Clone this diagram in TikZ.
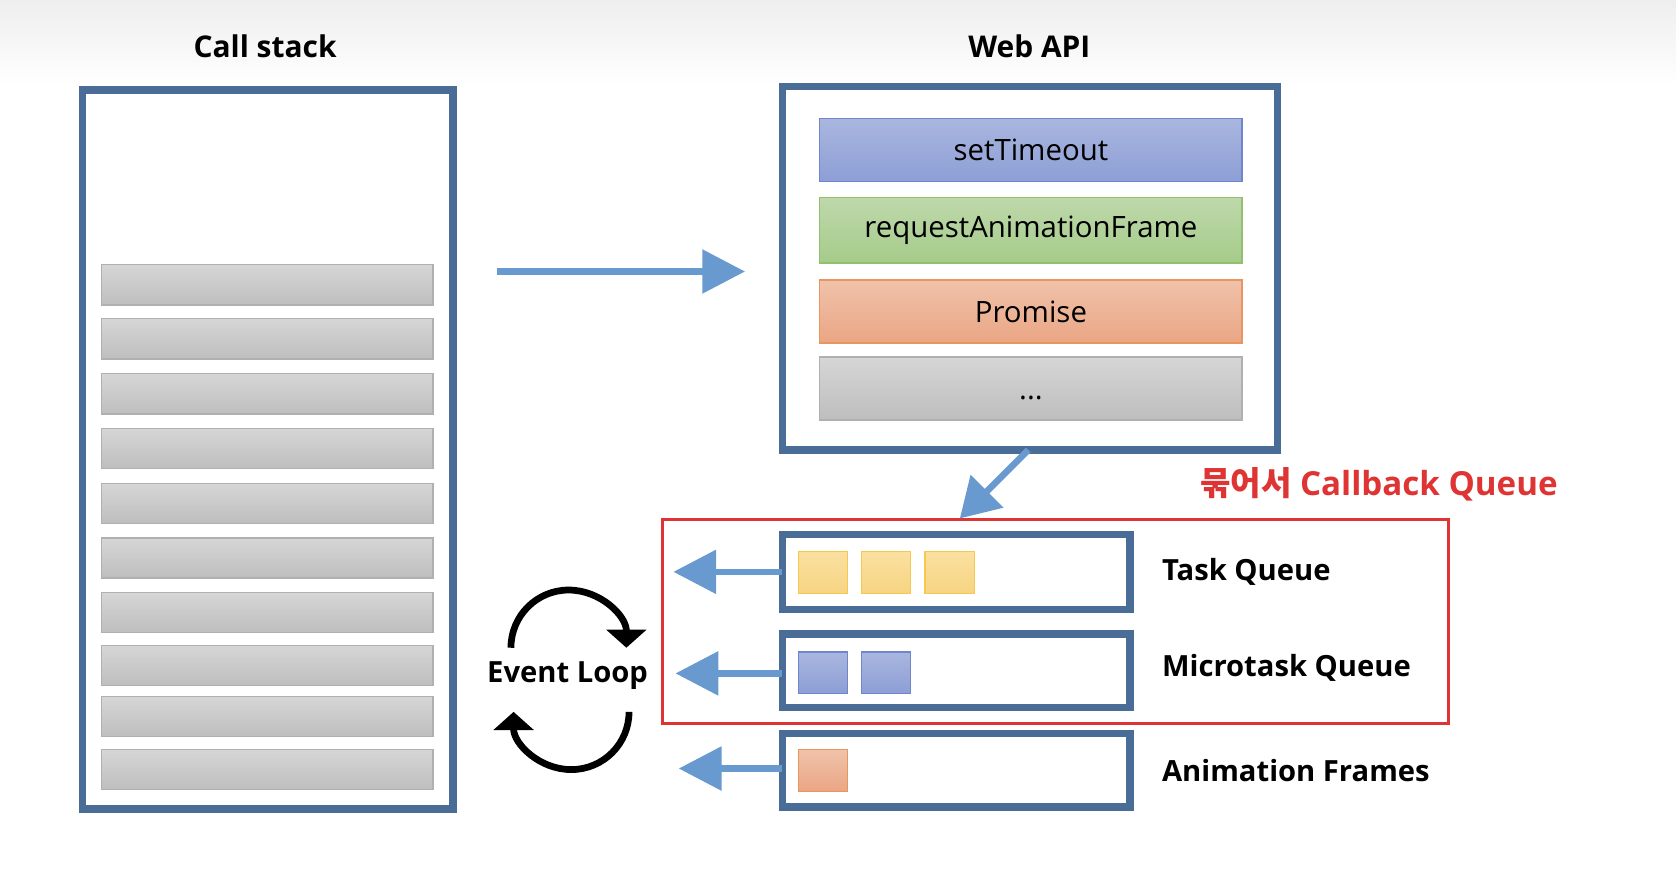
\documentclass[tikz,border=0pt]{standalone}
\usepackage{fontspec}
\setmainfont{Open Sans}
\newfontfamily\krfont{Noto Sans CJK KR}
\usetikzlibrary{arrows.meta}
\definecolor{boxblue}{RGB}{73,109,150}
\definecolor{arrblue}{RGB}{104,153,207}
\definecolor{qred}{RGB}{222,52,52}
\definecolor{bluetop}{RGB}{170,182,222}
\definecolor{bluebot}{RGB}{140,158,214}
\definecolor{blueln}{RGB}{112,134,204}
\definecolor{greentop}{RGB}{190,216,170}
\definecolor{greenbot}{RGB}{165,203,138}
\definecolor{greenln}{RGB}{145,192,112}
\definecolor{orgtop}{RGB}{240,194,170}
\definecolor{orgbot}{RGB}{234,166,132}
\definecolor{orgln}{RGB}{232,150,96}
\definecolor{graytop}{RGB}{214,214,214}
\definecolor{graybot}{RGB}{190,190,190}
\definecolor{grayln}{RGB}{176,176,176}
\definecolor{yeltop}{RGB}{250,224,160}
\definecolor{yelbot}{RGB}{247,212,130}
\definecolor{yelln}{RGB}{246,200,80}
\begin{document}
\begin{tikzpicture}[x=1pt,y=-1pt,
  frame/.style={draw=boxblue,line width=7pt,inner sep=0pt,outer sep=0pt},
  bar/.style={inner sep=0pt,outer sep=0pt,line width=1.2pt,minimum width=#1},
  graybar/.style={bar=310pt,draw=grayln,top color=graytop,bottom color=graybot,minimum height=37.5pt},
  apibar/.style={bar=395pt,minimum height=59pt,font=\fontsize{27.5}{32}\selectfont},
  sq/.style={inner sep=0pt,outer sep=0pt,line width=1.2pt,minimum width=46pt,minimum height=39pt},
  bigarrow/.style={draw=arrblue,line width=6pt,-{Triangle[length=40pt,width=40pt]}},
  looparrow/.style={draw=black,line width=6.3pt,-{Triangle[length=17pt,width=37pt]}},
  title/.style={font=\fontsize{28}{32}\selectfont\bfseries},
  qlabel/.style={anchor=west,font=\fontsize{27.3}{32}\selectfont\bfseries,inner sep=0pt}
]
\useasboundingbox (0,0) rectangle (1568,818);
\shade[top color={rgb,255:red,238;green,238;blue,238},bottom color=white] (0,0) rectangle (1568,80);

% titles
\node[title] (tcs) at (248,43) {Call stack};
\node[title] (tapi) at (963,43) {Web API};

% call stack
\node[frame,minimum width=347pt,minimum height=673pt] (cs) at (250.5,420.5) {};
\foreach \i/\y in {1/266.5,2/317,3/368.5,4/419.5,5/471,6/522,7/573,8/622.5,9/670.5,10/720}
  \node[graybar] (cb\i) at (250,\y) {};

% web api
\node[frame,minimum width=463pt,minimum height=340pt] (api) at (963.5,251) {};
\node[apibar,draw=blueln,top color=bluetop,bottom color=bluebot] (st) at (964.5,140.5) {setTimeout};
\node[apibar,draw=greenln,top color=greentop,bottom color=greenbot,minimum height=61pt] (raf) at (964.5,215.5) {requestAnimationFrame};
\node[apibar,draw=orgln,top color=orgtop,bottom color=orgbot] (pr) at (964.5,291.5) {Promise};
\node[apibar,draw=grayln,top color=graytop,bottom color=graybot] (etc) at (964.5,363.5) {\raisebox{-10pt}[0pt][0pt]{...}};

% right arrow
\coordinate (ra1) at (465,254);
\coordinate (ra2) at (697,254);
\draw[bigarrow] (ra1) -- (ra2);

% callback queue group
\node[draw=qred,line width=3pt,minimum width=735pt,minimum height=191pt,inner sep=0pt] (cbq) at (987.5,581.5) {};
\node[font=\fontsize{31}{36}\selectfont\bfseries,text=qred] (cbqlabel) at (1290,453) {{\krfont\bfseries 묶어서} Callback Queue};

% diagonal arrow
\coordinate (da1) at (962,421);
\coordinate (da2) at (898,485);
\draw[draw=arrblue,line width=6pt,-{Triangle[length=36pt,width=42pt]}] (da1) -- (da2);

% queues
\node[frame,minimum width=325pt,minimum height=70pt] (tq) at (894.5,535) {};
\node[frame,minimum width=325pt,minimum height=69pt] (mq) at (894.5,627.5) {};
\node[frame,minimum width=325pt,minimum height=69pt] (af) at (894.5,720.5) {};

\node[sq,draw=yelln,top color=yeltop,bottom color=yelbot] (y1) at (770,535.5) {};
\node[sq,draw=yelln,top color=yeltop,bottom color=yelbot] (y2) at (829,535.5) {};
\node[sq,draw=yelln,top color=yeltop,bottom color=yelbot] (y3) at (888.5,535.5) {};
\node[sq,draw=blueln,top color=bluetop,bottom color=bluebot] (b1) at (770,629.5) {};
\node[sq,draw=blueln,top color=bluetop,bottom color=bluebot] (b2) at (829,629.5) {};
\node[sq,draw=orgln,top color=orgtop,bottom color=orgbot] (o1) at (770,721) {};

\coordinate (tqa) at (630,535);
\coordinate (mqa) at (632,630);
\coordinate (afa) at (635,719);
\draw[bigarrow] (tq.west |- tqa) -- (tqa);
\draw[bigarrow] (mq.west |- mqa) -- (mqa);
\draw[bigarrow] (af.west |- afa) -- (afa);

\node[qlabel] (tql) at (1087,535) {Task Queue};
\node[qlabel] (mql) at (1087,625) {Microtask Queue};
\node[qlabel] (afl) at (1087,721) {Animation Frames};

% event loop
\node[font=\fontsize{27.3}{32}\selectfont\bfseries] (el) at (531,632) {Event Loop};
\coordinate (lt) at (478,606);
\coordinate (lb) at (588.5,666);
\draw[looparrow] (lt) arc[start angle=180,end angle=0,radius=54pt];
\draw[looparrow] (lb) arc[start angle=0,end angle=-180,radius=54pt];
\end{tikzpicture}
\end{document}
